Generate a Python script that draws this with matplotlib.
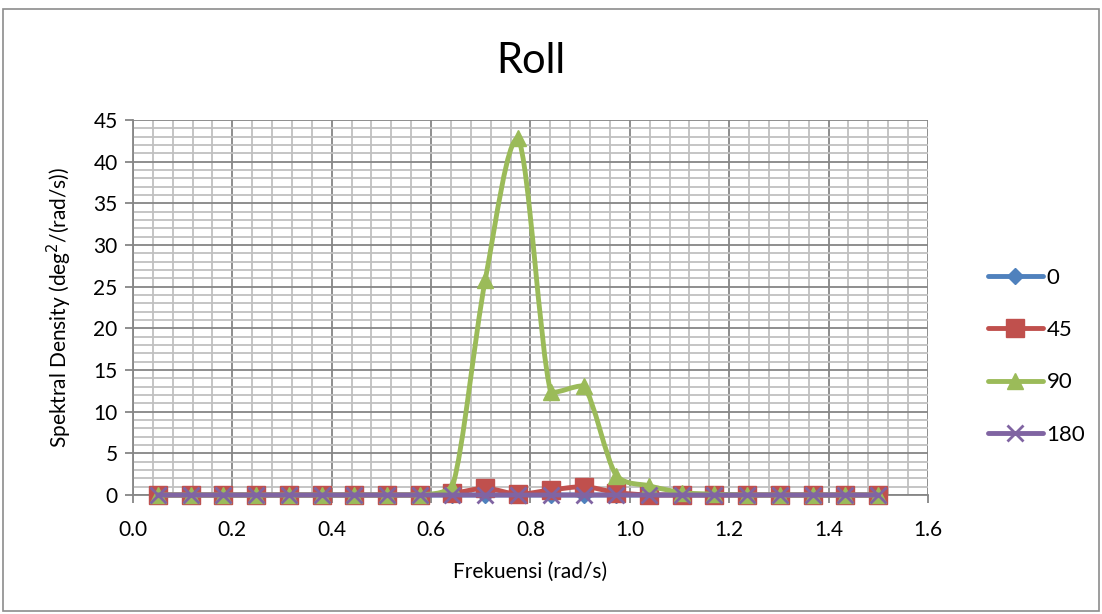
import matplotlib
matplotlib.use("Agg")
import numpy as np
import matplotlib.pyplot as plt
from matplotlib.ticker import MultipleLocator, FormatStrFormatter
from matplotlib.patches import Rectangle, PathPatch
from matplotlib.path import Path
from matplotlib.lines import Line2D

plt.rcParams['font.family'] = ['Lato', 'DejaVu Sans']

# Frequency (rad/s)
freq = [0.050, 0.116, 0.182, 0.248, 0.314, 0.380, 0.445, 0.511, 0.577, 0.643,
        0.709, 0.775, 0.841, 0.907, 0.973, 1.039, 1.105, 1.170, 1.236, 1.302,
        1.368, 1.434, 1.500]

# Roll spectral density per heading
s0 = [0.0] * 23
s45 = [0.0, 0.0, 0.0, 0.0, 0.0, 0.0, 0.0, 0.0, 0.0, 0.2,
       0.8, 0.1, 0.6, 1.0, 0.3, 0.0, 0.0, 0.0, 0.0, 0.0,
       0.0, 0.0, 0.0]
s90 = [0.0, 0.0, 0.0, 0.0, 0.0, 0.0, 0.0, 0.0, 0.0, 1.0,
       25.8, 42.8, 12.3, 13.1, 2.3, 1.1, 0.3, 0.1, 0.0, 0.0,
       0.0, 0.0, 0.0]
s180 = [0.0] * 23

labels = ['0', '45', '90', '180']
colors = ['#4F81BD', '#C0504D', '#9BBB59', '#8064A2']
markers = ['D', 's', '^', 'x']
msizes = [8, 13, 12, 11]
LW = 3.5


def smooth_path(x, y):
    """Cubic Bezier path through the points; control points are kept within
    each segment's value range so the curve never overshoots."""
    p = np.column_stack([x, y]).astype(float)
    n = len(p)
    verts = [p[0]]
    codes = [Path.MOVETO]
    for i in range(n - 1):
        prev = p[i - 1] if i > 0 else p[i]
        nxt = p[i + 2] if i + 2 < n else p[i + 1]
        c1 = p[i] + (p[i + 1] - prev) / 6.0
        c2 = p[i + 1] - (nxt - p[i]) / 6.0
        lo, hi = sorted((p[i, 1], p[i + 1, 1]))
        c1[1] = min(max(c1[1], lo), hi)
        c2[1] = min(max(c2[1], lo), hi)
        verts += [c1, c2, p[i + 1]]
        codes += [Path.CURVE4] * 3
    return Path(verts, codes)


fig = plt.figure(figsize=(11.02, 6.14), dpi=100)
fig.patches.append(Rectangle((0.003, 0.005), 0.994, 0.98, transform=fig.transFigure,
                             fill=False, edgecolor='#8c8c8c', linewidth=1.2))
ax = fig.add_axes([0.1207, 0.1938, 0.7213, 0.6108])

handles = []
for k, (ys, lab, c, m, ms) in enumerate(zip([s0, s45, s90, s180], labels, colors,
                                             markers, msizes)):
    z = 3 + k
    ax.add_patch(PathPatch(smooth_path(freq, ys), fill=False, edgecolor=c, lw=LW,
                           capstyle='round', joinstyle='round', zorder=z,
                           clip_on=False))
    ax.plot(freq, ys, linestyle='none', marker=m, markersize=ms,
            markeredgewidth=2 if m == 'x' else 1, markeredgecolor=c,
            markerfacecolor=c, zorder=z + 0.5, clip_on=False)
    handles.append(Line2D([], [], color=c, lw=LW, marker=m, markersize=ms,
                          markeredgewidth=2 if m == 'x' else 1,
                          markeredgecolor=c, markerfacecolor=c,
                          solid_capstyle='round', label=lab))

ax.set_xlim(0, 1.6)
ax.set_ylim(0, 45)
ax.xaxis.set_major_locator(MultipleLocator(0.2))
ax.xaxis.set_minor_locator(MultipleLocator(0.04))
ax.yaxis.set_major_locator(MultipleLocator(5))
ax.yaxis.set_minor_locator(MultipleLocator(1))
ax.xaxis.set_major_formatter(FormatStrFormatter('%.1f'))

ax.grid(which='minor', color='#c0c0c0', lw=1.3)
ax.grid(which='major', color='#868686', lw=1.3)
ax.set_axisbelow(True)

for side in ['top', 'right']:
    ax.spines[side].set_visible(False)
for side in ['left', 'bottom']:
    ax.spines[side].set_color('#868686')
    ax.spines[side].set_linewidth(1.3)
ax.tick_params(which='major', length=6, color='#868686', width=1.3, labelsize=15)
ax.tick_params(which='minor', length=0)
ax.tick_params(axis='x', pad=12)
ax.tick_params(axis='y', pad=5)

ax.set_title('Roll', fontsize=30, pad=34)
ax.set_xlabel('Frekuensi (rad/s)', fontsize=15, labelpad=16)
ax.set_ylabel('Spektral Density (deg$^2$/(rad/s))', fontsize=15, labelpad=14)

ax.legend(handles=handles, loc='center left', bbox_to_anchor=(1.05, 0.37),
          frameon=False, fontsize=16, handlelength=2.5, labelspacing=1.45,
          handletextpad=0.15)

fig.savefig('out.png', dpi=100)
